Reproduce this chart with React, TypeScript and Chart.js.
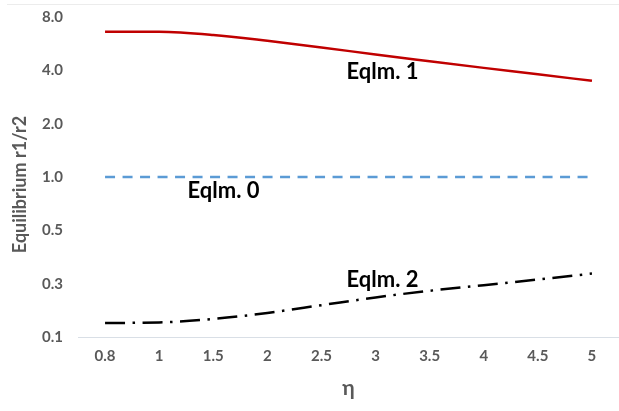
import React, { useEffect, useRef } from "react";
import { Chart, registerables } from "chart.js";

Chart.register(...registerables);

const etaLabels = ["0.8", "1", "1.5", "2", "2.5", "3", "3.5", "4", "4.5", "5"];
const eqlm1 = [6.61, 6.6, 6.33, 5.87, 5.39, 4.91, 4.5, 4.13, 3.8, 3.49];
const eqlm0 = [1, 1, 1, 1, 1, 1, 1, 1, 1, 1];
const eqlm2 = [0.15, 0.151, 0.158, 0.171, 0.189, 0.209, 0.228, 0.245, 0.264, 0.285];
const yTickValues = [0.125, 0.25, 0.5, 1, 2, 4, 8];
const yTickLabels = ["0.1", "0.3", "0.5", "1.0", "2.0", "4.0", "8.0"];
const seriesNames = ["Eqlm. 1", "Eqlm. 0", "Eqlm. 2"];
const yTitle = "Equilibrium r1/r2";
const xTitle = "η";
// label anchors: [category index (fractional), value]
const labelAnchors: [number, number][] = [
  [5.13, 3.9],
  [2.19, 0.834],
  [5.13, 0.262],
];

const FONT = "Lato, 'Open Sans', sans-serif";
const GREY = "#595959";

const annotationPlugin = {
  id: "seriesLabels",
  afterDatasetsDraw(chart: any) {
    const { ctx, scales } = chart;
    ctx.save();
    ctx.font = `bold 22px ${FONT}`;
    ctx.fillStyle = "#000000";
    ctx.textAlign = "center";
    ctx.textBaseline = "middle";
    seriesNames.forEach((name, i) => {
      const [xi, v] = labelAnchors[i];
      ctx.fillText(name, scales.x.getPixelForValue(xi), scales.y.getPixelForValue(v));
    });
    ctx.translate(20, 184.5);
    ctx.rotate(-Math.PI / 2);
    ctx.font = `bold 18px ${FONT}`;
    ctx.fillStyle = GREY;
    ctx.fillText(yTitle, 0, 0);
    ctx.restore();
  },
  beforeDraw(chart: any) {
    const { ctx, width } = chart;
    ctx.save();
    ctx.strokeStyle = "#ececec";
    ctx.lineWidth = 1;
    ctx.beginPath();
    ctx.moveTo(7, 4.5);
    ctx.lineTo(width, 4.5);
    ctx.stroke();
    ctx.restore();
  },
};

export default function App() {
  const ref = useRef<HTMLCanvasElement | null>(null);
  useEffect(() => {
    document.body.style.margin = "0";
    const canvas = ref.current!;
    const chart = new Chart(canvas, {
      type: "line",
      data: {
        labels: etaLabels,
        datasets: [
          {
            label: seriesNames[0],
            data: eqlm1,
            borderColor: "#c00000",
            borderWidth: 2.5,
            pointRadius: 0,
            cubicInterpolationMode: "monotone",
            fill: false,
          },
          {
            label: seriesNames[1],
            data: eqlm0,
            borderColor: "#5b9bd5",
            borderWidth: 2.5,
            borderDash: [10, 7.5],
            pointRadius: 0,
            fill: false,
          },
          {
            label: seriesNames[2],
            data: eqlm2,
            borderColor: "#000000",
            borderWidth: 2.5,
            borderDash: [20, 7.5, 2.5, 7.5],
            pointRadius: 0,
            cubicInterpolationMode: "monotone",
            fill: false,
          },
        ],
      },
      options: {
        animation: false,
        responsive: false,
        layout: { padding: { top: 17, right: -2, bottom: 0, left: 0 } },
        plugins: {
          legend: { display: false },
          tooltip: { enabled: false },
        },
        scales: {
          x: {
            type: "category",
            offset: true,
            grid: { display: true, color: "rgba(0,0,0,0)", drawTicks: false },
            border: { display: true, color: "#d9dfe6", width: 1 },
            ticks: {
              padding: 10,
              color: GREY,
              font: { family: FONT, size: 15, weight: "bold" },
              maxRotation: 0,
              autoSkip: false,
            },
            title: {
              display: true,
              text: xTitle,
              color: GREY,
              font: { family: FONT, size: 21, weight: "bold" },
              padding: { top: 0, bottom: 10 },
            },
            afterFit: (s: any) => {
              s.height = 74;
              s.paddingLeft = 0;
              s.paddingRight = 0;
            },
          },
          y: {
            type: "logarithmic",
            min: 0.125,
            max: 8,
            grid: { display: false, drawTicks: false },
            border: { display: false },
            afterBuildTicks: (s: any) => {
              s.ticks = yTickValues.map((v) => ({ value: v }));
            },
            ticks: {
              padding: 15,
              color: GREY,
              font: { family: FONT, size: 15, weight: "bold" },
              callback: (_v: any, i: number) => yTickLabels[i],
            },
            title: { display: false, text: yTitle },
            afterFit: (s: any) => {
              s.width = 78;
              s.paddingTop = 0;
              s.paddingBottom = 0;
            },
          },
        },
      },
      plugins: [annotationPlugin],
    });
    return () => chart.destroy();
  }, []);
  return (
    <div style={{ width: 619, height: 411 }}>
      <canvas ref={ref} width={619} height={411} />
    </div>
  );
}
